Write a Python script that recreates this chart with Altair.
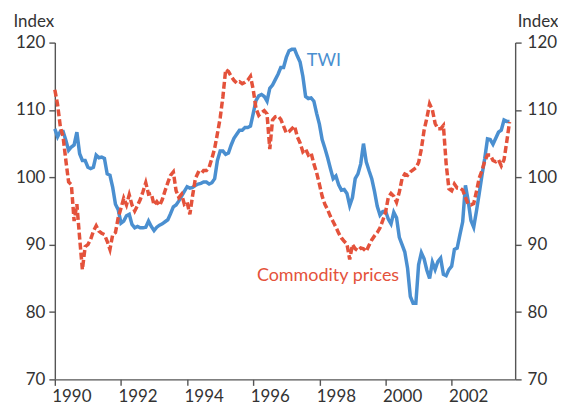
import altair as alt
import pandas as pd

start_year = 1990
twi = [107.2,106.0,106.8,106.8,105.5,104.0,104.5,104.8,106.7,103.5,102.5,102.5,
       101.5,101.3,101.5,103.3,102.9,103.0,102.8,100.5,100.3,98.5,96.0,95.2,
       93.2,93.5,94.3,94.5,93.0,92.5,92.7,92.5,92.5,92.6,93.5,92.7,
       92.1,92.6,92.9,93.1,93.4,93.7,94.6,95.6,95.9,96.5,97.2,97.9,
       98.6,98.4,98.5,98.8,99.0,99.1,99.3,99.3,99.0,99.2,99.8,102.5,
       103.9,103.9,103.4,103.6,104.8,105.8,106.4,107.0,107.0,107.4,107.4,107.6,
       109.5,111.4,112.1,112.3,112.0,111.3,113.2,113.7,114.5,115.3,116.3,116.3,
       117.8,118.8,119.0,119.0,118.0,117.1,115.0,112.0,111.7,111.8,111.3,109.5,
       107.9,105.6,104.3,102.9,101.3,99.8,100.2,98.9,98.1,98.2,97.6,95.8,
       97.0,99.8,100.5,102.0,105.0,102.3,101.0,99.8,97.9,95.7,94.4,94.9,
       95.0,93.8,93.1,94.8,94.0,91.1,90.0,88.9,86.5,82.3,81.3,81.3,
       87.0,88.8,87.9,86.2,85.0,87.4,86.3,87.5,88.0,85.6,85.4,86.3,
       86.8,89.3,89.5,91.5,93.4,98.8,96.5,93.6,92.6,95.0,97.6,100.3,
       102.8,105.7,105.6,104.9,105.8,106.7,107.0,108.5,108.3,108.3]
commodity = [113.0,110.8,107.5,106.0,102.5,99.3,98.9,93.5,96.0,91.0,86.3,89.7,
             90.0,90.8,92.0,92.8,92.0,91.7,91.5,90.5,89.3,91.5,91.8,94.0,
             95.4,96.9,95.9,97.4,95.9,95.0,95.8,96.7,97.9,99.2,97.5,97.6,
             95.9,96.4,95.8,96.7,98.0,99.2,100.3,100.8,98.0,97.0,97.5,96.0,
             96.3,94.5,97.3,99.8,100.7,100.5,101.0,101.0,101.5,102.8,104.3,106.5,
             108.8,112.0,116.0,115.7,115.0,114.4,114.0,114.2,113.9,114.1,114.4,115.0,
             113.0,110.2,109.2,109.6,109.9,109.4,104.2,108.5,109.0,109.1,108.6,107.6,
             106.6,106.8,107.2,107.6,106.0,105.1,103.8,104.2,103.3,103.6,102.0,100.7,
             99.0,97.2,96.0,95.2,94.2,93.4,92.6,91.7,91.0,90.5,90.1,87.8,
             90.0,89.4,89.1,89.5,89.4,89.0,89.9,90.7,91.3,91.8,92.5,93.6,
             94.8,97.0,97.6,97.2,96.3,97.8,99.8,100.5,100.3,100.8,101.1,101.4,
             102.2,104.2,107.0,108.8,110.9,110.0,108.0,107.2,107.2,107.7,102.0,98.3,
             98.0,99.0,98.4,98.4,98.1,97.0,96.0,95.9,96.1,97.9,99.9,101.0,
             102.4,103.3,103.3,102.5,102.3,102.6,101.7,102.6,105.3,108.2]

year_ticks = list(range(1990, 2004))
y_ticks = [70, 80, 90, 100, 110, 120]
labels = ["TWI", "Commodity prices"]
label_x = [1997.62, 1996.11]
label_y = [116.5, 84.65]

BLUE = "#4a8fd0"
RED = "#e4523b"
FONT = "Lato"

df = pd.DataFrame({
    "year": [start_year + i / 12 for i in range(len(twi))],
    "twi": twi,
    "commodity": commodity,
})
lab = pd.DataFrame({"label": labels, "x": label_x, "y": label_y})

xscale = alt.Scale(domain=[1990, 2003.92], nice=False, zero=False)
yscale = alt.Scale(domain=[70, 120], nice=False, zero=False)

axis_common = dict(
    grid=False, domainColor="#555", tickColor="#555", domainWidth=1.4,
    tickWidth=1.4, tickSize=6, labelColor="#333", labelFont=FONT,
    labelFontSize=17, values=y_ticks,
)

xaxis = alt.Axis(
    values=year_ticks, format="d",
    labelExpr="datum.value % 2 == 0 ? datum.label : ''",
    labelOffset=16.6, labelFlush=False, grid=False, domainColor="#555",
    tickColor="#555", domainWidth=1.4, tickWidth=1.4, tickSize=6,
    labelColor="#333", labelFont=FONT, labelFontSize=17, labelPadding=3,
    title=None,
)

left_axis = alt.Axis(
    orient="left", title="Index", titleAngle=0, titleAlign="left",
    titleBaseline="alphabetic", titleX=-42, titleY=-16, titleFont=FONT,
    titleFontSize=17, titleFontWeight="normal", titleColor="#333",
    labelPadding=4, **axis_common,
)
right_axis = alt.Axis(
    orient="right", title="Index", titleAngle=0, titleAlign="right",
    titleBaseline="alphabetic", titleX=43, titleY=-16, titleFont=FONT,
    titleFontSize=17, titleFontWeight="normal", titleColor="#333",
    labelPadding=6, **axis_common,
)

twi_line = alt.Chart(df).mark_line(color=BLUE, strokeWidth=3.5).encode(
    x=alt.X("year:Q", scale=xscale, axis=xaxis),
    y=alt.Y("twi:Q", scale=yscale, axis=left_axis),
)
com_line = alt.Chart(df).mark_line(
    color=RED, strokeWidth=3.5, strokeDash=[7, 3]
).encode(
    x=alt.X("year:Q", scale=xscale),
    y=alt.Y("commodity:Q", scale=yscale, axis=right_axis),
)
text = alt.Chart(lab).mark_text(
    align="left", baseline="alphabetic", font=FONT, fontSize=18
).encode(
    x=alt.X("x:Q", scale=xscale),
    y=alt.Y("y:Q", scale=yscale, axis=None),
    text="label:N",
    color=alt.Color("label:N", scale=alt.Scale(domain=labels, range=[BLUE, RED]), legend=None),
)

chart = alt.layer(twi_line, com_line, text).resolve_axis(y="independent").properties(
    width=462, height=338,
    padding={"left": 47, "top": 34, "right": 43, "bottom": 27},
    autosize=alt.AutoSizeParams(type="none"),
).configure_view(stroke=None)

chart.save("out.html", embed_options={"renderer": "svg", "actions": False})
